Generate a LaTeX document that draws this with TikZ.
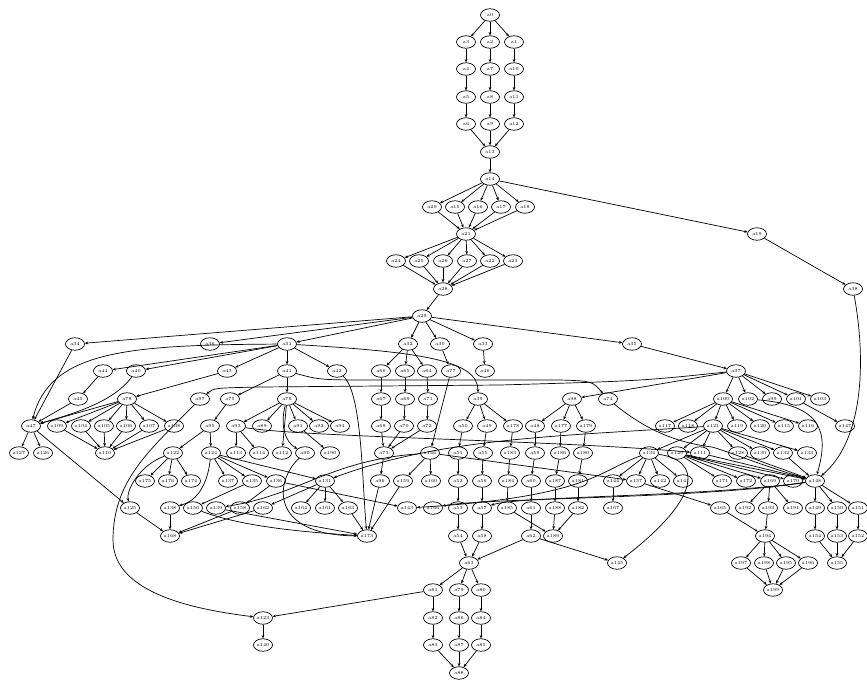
\documentclass[tikz,border=0pt]{standalone}
\usepackage{tikz}
\usetikzlibrary{shapes,arrows.meta,positioning}

\begin{document}
\begin{tikzpicture}[x=1pt, y=-1pt,
    vtx/.style={draw, ellipse, line width=0.7pt, minimum width=19pt, minimum height=12.5pt, inner sep=0pt, font=\fontsize{4.6}{5}\selectfont},
    dep/.style={-{Stealth[length=3.4pt,width=2.8pt]}, line width=0.7pt}]
\useasboundingbox (0,0) rectangle (867,683);
% ranks, top to bottom
\foreach \n/\x in {a0/490} \node[vtx] (\n) at (\x,15) {\n};
\foreach \n/\x in {a3/466,a2/490,a1/514} \node[vtx] (\n) at (\x,42) {\n};
\foreach \n/\x in {a4/466,a7/490,a10/514} \node[vtx] (\n) at (\x,69) {\n};
\foreach \n/\x in {a5/466,a8/490,a11/514} \node[vtx] (\n) at (\x,97) {\n};
\foreach \n/\x in {a6/466,a9/490,a12/514} \node[vtx] (\n) at (\x,124) {\n};
\foreach \n/\x in {a13/490} \node[vtx] (\n) at (\x,152) {\n};
\foreach \n/\x in {a14/490} \node[vtx] (\n) at (\x,179) {\n};
\foreach \n/\x in {a20/432,a15/455,a16/478,a17/501,a18/525} \node[vtx] (\n) at (\x,207) {\n};
\foreach \n/\x in {a21/466,a19/757} \node[vtx] (\n) at (\x,234) {\n};
\foreach \n/\x in {a24/396,a25/419,a26/443,a27/467,a22/490,a23/513} \node[vtx] (\n) at (\x,261) {\n};
\foreach \n/\x in {a28/443,a38/853} \node[vtx] (\n) at (\x,289) {\n};
\foreach \n/\x in {a29/422} \node[vtx] (\n) at (\x,316) {\n};
\foreach \n/\x in {a34/75,a36/210,a31/287,a32/408,a30/440,a33/483,a35/632} \node[vtx] (\n) at (\x,344) {\n};
\foreach \n/\x in {a44/103,a40/136,a43/227,a41/287,a42/337,a66/381,a65/405,a64/427,a77/451,a46/485,a37/736} \node[vtx] (\n) at (\x,371) {\n};
\foreach \n/\x in {a45/78,a78/127,a97/200,a75/230,a76/287,a67/381,a69/405,a71/428,a39/478,a98/572,a74/608,a100/723,a102/748,a99/772,a101/796,a103/820} \node[vtx] (\n) at (\x,399) {\n};
\foreach \n/\x in {a47/31,a109/57,a104/81,a105/104,a106/126,a107/149,a108/174,a95/210,a93/236,a89/262,a91/298,a92/319,a94/340,a68/381,a70/404,a72/427,a50/463,a49/487,a178/513,a48/535,a177/561,a179/586,a117/665,a118/688,a121/713,a119/737,a120/760,a115/784,a116/808,a147/845} \node[vtx] (\n) at (\x,426) {\n};
\foreach \n/\x in {a127/19,a126/43,a110/105,a122/173,a124/211,a113/236,a114/259,a112/282,a90/305,a190/330,a73/384,a146/430,a51/458,a55/483,a183/510,a59/535,a186/560,a180/583,a134/649,a129/677,a111/700,a128/738,a130/760,a132/783,a133/807} \node[vtx] (\n) at (\x,453) {\n};
\foreach \n/\x in {a175/145,a176/168,a174/191,a137/228,a135/252,a136/276,a131/325,a96/380,a159/403,a160/431,a52/458,a56/482,a184/508,a60/531,a187/555,a181/578,a144/613,a157/636,a142/660,a141/683,a171/722,a172/746,a169/770,a170/793,a148/815} \node[vtx] (\n) at (\x,481) {\n};
\foreach \n/\x in {a125/130,a138/170,a156/193,a139/216,a158/240,a162/263,a164/301,a161/325,a163/348,a143/407,a166/433,a53/458,a57/482,a185/507,a61/531,a188/555,a182/578,a167/613,a165/720,a192/745,a193/768,a191/793,a149/815,a150/837,a151/858} \node[vtx] (\n) at (\x,508) {\n};
\foreach \n/\x in {a168/170,a173/367,a54/458,a58/482,a62/531,a189/553,a194/765,a154/815,a153/837,a152/858} \node[vtx] (\n) at (\x,536) {\n};
\foreach \n/\x in {a63/469,a145/617,a197/741,a198/764,a195/786,a196/808,a155/837} \node[vtx] (\n) at (\x,563) {\n};
\foreach \n/\x in {a81/433,a79/459,a80/481,a199/773} \node[vtx] (\n) at (\x,590) {\n};
\foreach \n/\x in {a123/263,a82/433,a86/459,a84/481} \node[vtx] (\n) at (\x,618) {\n};
\foreach \n/\x in {a140/263,a83/433,a87/459,a85/481} \node[vtx] (\n) at (\x,645) {\n};
\foreach \n/\x in {a88/459} \node[vtx] (\n) at (\x,673) {\n};

% straight edges
\foreach \s/\t in {a0/a3,a0/a2,a0/a1,a3/a4,a4/a5,a5/a6,a6/a13,a2/a7,a7/a8,a8/a9,a9/a13,
    a1/a10,a10/a11,a11/a12,a12/a13,a13/a14,
    a14/a20,a14/a15,a14/a16,a14/a17,a14/a18,a14/a19,
    a20/a21,a15/a21,a16/a21,a17/a21,a18/a21,
    a21/a24,a21/a25,a21/a26,a21/a27,a21/a22,a21/a23,
    a24/a28,a25/a28,a26/a28,a27/a28,a22/a28,a23/a28,a28/a29,a19/a38,
    a29/a34,a29/a36,a29/a31,a29/a32,a29/a30,a29/a33,a29/a35,
    a31/a44,a31/a40,a31/a43,a31/a41,a31/a42,
    a32/a66,a32/a65,a32/a64,a30/a77,a33/a46,a35/a37,
    a34/a47,a44/a45,a45/a47,a43/a78,a41/a75,a41/a76,
    a66/a67,a67/a68,a68/a73,a65/a69,a69/a70,a70/a73,a64/a71,a71/a72,a72/a73,
    a77/a146,a37/a98,a37/a100,a37/a102,a37/a99,a37/a101,a37/a103,
    a78/a47,a78/a109,a78/a104,a78/a105,a78/a106,a78/a107,a78/a108,
    a75/a95,a76/a93,a76/a89,a76/a91,a76/a92,a76/a94,a76/a112,
    a39/a50,a39/a49,a39/a178,a98/a48,a98/a177,a98/a179,
    a100/a117,a100/a118,a100/a121,a100/a119,a100/a120,a100/a115,a100/a116,a101/a147,
    a47/a127,a47/a126,a47/a125,
    a109/a110,a104/a110,a105/a110,a106/a110,a107/a110,a108/a110,
    a95/a122,a95/a124,a93/a113,a93/a114,a91/a190,
    a50/a51,a51/a52,a52/a53,a53/a54,a54/a63,
    a49/a55,a55/a56,a56/a57,a57/a58,a58/a63,
    a178/a183,a183/a184,a184/a185,a185/a189,
    a48/a59,a59/a60,a60/a61,a61/a62,
    a177/a186,a186/a187,a187/a188,a188/a189,
    a179/a180,a180/a181,a181/a182,a182/a189,a62/a63,a62/a145,
    a121/a134,a121/a129,a121/a111,a121/a128,a121/a130,a121/a132,a121/a133,
    a122/a175,a122/a176,a122/a174,
    a124/a137,a124/a135,a124/a136,a124/a131,
    a73/a96,a96/a173,a159/a173,a163/a173,a139/a173,
    a135/a156,a136/a158,a136/a143,a131/a162,a131/a164,a131/a161,a131/a163,
    a146/a159,a146/a160,a146/a157,
    a125/a168,a138/a168,a158/a168,a162/a168,
    a134/a157,a134/a142,a134/a141,a134/a144,a144/a167,
    a129/a171,a129/a172,a129/a169,a129/a170,a129/a148,
    a111/a148,a128/a148,a132/a148,a148/a149,a148/a150,a148/a151,
    a157/a165,a165/a194,a169/a192,a169/a193,a169/a191,a193/a194,
    a194/a197,a194/a198,a194/a195,a194/a196,
    a197/a199,a198/a199,a195/a199,a196/a199,
    a149/a154,a154/a155,a150/a153,a153/a155,a151/a152,a152/a155,
    a63/a81,a63/a79,a63/a80,
    a81/a82,a82/a83,a83/a88,a79/a86,a86/a87,a87/a88,a80/a84,a84/a85,a85/a88,
    a81/a123,a123/a140}
  \draw[dep] (\s) -- (\t);

% long curved edges
\draw[dep] (a31) .. controls (130,345) and (50,350) .. (a47);
\draw[dep] (a40) .. controls (115,400) and (80,412) .. (a47);
\draw[dep] (a31) .. controls (420,352) and (478,360) .. (a39);
\draw[dep] (a42) .. controls (362,392) and (362,480) .. (a173);
\draw[dep] (a41) .. controls (320,380) .. (380,380) -- (560,380) .. controls (592,381) .. (a74);
\draw[dep] (a37) .. controls (640,381) .. (500,385) -- (260,387) .. controls (214,388) .. (a97);
\draw[dep] (a97) .. controls (150,450) and (113,480) .. (113,540) .. controls (113,595) and (200,610) .. (a123);
\draw[dep] (a122) .. controls (140,465) and (126,490) .. (a125);
\draw[dep] (a124) .. controls (208,480) and (200,500) .. (a138);
\draw[dep] (a76) .. controls (280,425) and (285,442) .. (a90);
\draw[dep] (a90) .. controls (275,480) and (268,535) .. (a173);
\draw[dep] (a156) .. controls (240,526) and (300,532) .. (a173);
\draw[dep] (a93) .. controls (300,437) and (550,440) .. (a111);
\draw[dep] (a121) .. controls (560,436) and (440,438) .. (a131);
\draw[dep] (a146) .. controls (330,460) and (300,495) .. (a139);
\draw[dep] (a74) .. controls (640,425) and (670,442) .. (712,447) .. controls (730,452) and (760,465) .. (a148);
\draw[dep] (a102) .. controls (820,405) and (830,430) .. (a148);
\draw[dep] (a38) .. controls (866,360) and (864,440) .. (a148);
\draw[dep] (a134) .. controls (700,460) and (705,495) .. (a145);
\draw[dep] (a134) .. controls (600,470) and (590,497) .. (a143);
\draw[dep] (a148) .. controls (700,499) and (480,498) .. (a166);
\draw[dep] (a148) .. controls (700,497) and (520,496) .. (a57);
\end{tikzpicture}
\end{document}
